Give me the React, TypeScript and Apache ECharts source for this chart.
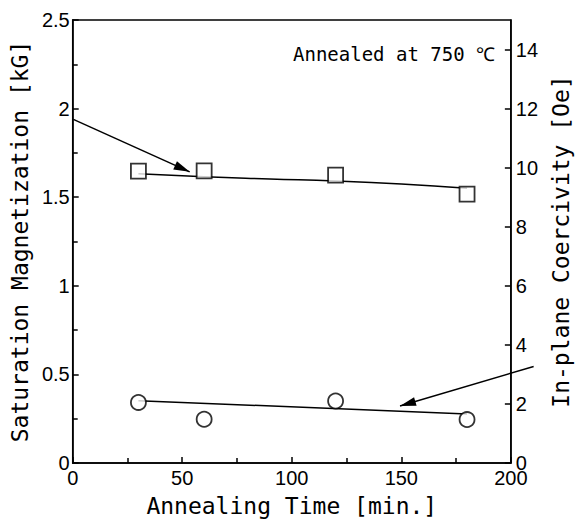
import { useEffect, useRef } from "react";
import * as echarts from "echarts";

// Annealing time [min.]
const annealTime = [30, 60, 120, 180];
// Saturation magnetization [kG] (squares, left axis)
const satMag = [1.647, 1.649, 1.625, 1.517];
// In-plane coercivity [Oe] (circles, right axis)
const coercivity = [2.05, 1.48, 2.1, 1.47];
// Fitted curve through magnetization points
const satFitTime = [30, 60, 90, 120, 150, 180];
const satFit = [1.632, 1.615, 1.603, 1.592, 1.575, 1.551];
// Fitted line through coercivity points
const coerFitTime = [30, 180];
const coerFit = [2.11, 1.66];
// Annotation arrows [start, tip]
const satArrow = [
  [0.3, 1.939],
  [53.4, 1.643],
];
const coerArrow = [
  [210.4, 3.27],
  [149.4, 1.93],
];
// Right-axis tick values
const rightTicks = [0, 2, 4, 6, 8, 10, 12, 14];

const ARROW = "path://M0,0 M32,32 M16,16 L20.5,32 L11.5,32 Z";

const MONO = '"DejaVu Sans Mono", "Liberation Mono", monospace';
const SANS = '"Liberation Sans", Arial, sans-serif';

export default function App() {
  const ref = useRef<HTMLDivElement>(null);
  useEffect(() => {
    if (!ref.current) return;
    const chart = echarts.init(ref.current, null, { renderer: "svg" });
    const axisLine = { show: true, lineStyle: { color: "#000", width: 1.5 } };
    const nameStyle = { fontFamily: MONO, fontSize: 23, color: "#000" };
    const labelStyle = { fontFamily: SANS, fontSize: 20, color: "#000" };
    chart.setOption({
      animation: false,
      backgroundColor: "#fff",
      grid: {
        left: 72,
        right: 60,
        top: 20,
        bottom: 60,
        show: true,
        borderColor: "#000",
        borderWidth: 1.5,
        backgroundColor: "transparent",
      },
      xAxis: {
        type: "value",
        min: 0,
        max: 200,
        interval: 50,
        name: "Annealing Time [min.]",
        nameLocation: "middle",
        nameGap: 31,
        nameTextStyle: { ...nameStyle, verticalAlign: "top" },
        axisLine,
        axisTick: { show: true, inside: true, length: 6, lineStyle: { color: "#000", width: 1.5 } },
        minorTick: { show: true, splitNumber: 2, length: 5, lineStyle: { color: "#000", width: 1.5 } },
        axisLabel: { ...labelStyle, margin: 5 },
        splitLine: { show: false },
      },
      yAxis: [
        {
          type: "value",
          position: "left",
          min: 0,
          max: 2.5,
          interval: 0.5,
          name: "Saturation Magnetization [kG]",
          nameLocation: "middle",
          nameRotate: 90,
          nameGap: 37,
          nameTextStyle: nameStyle,
          axisLine,
          axisTick: { show: true, inside: true, length: 6, lineStyle: { color: "#000", width: 1.5 } },
          minorTick: { show: true, splitNumber: 2, length: 5, lineStyle: { color: "#000", width: 1.5 } },
          axisLabel: { ...labelStyle, margin: 3 },
          splitLine: { show: false },
        },
        {
          type: "value",
          position: "right",
          min: 0,
          max: 15,
          interval: 2,
          name: "In-plane Coercivity [Oe]",
          nameLocation: "middle",
          nameRotate: 90,
          nameGap: 31,
          nameTextStyle: nameStyle,
          axisLine,
          axisTick: {
            show: true,
            inside: true,
            length: 6,
            customValues: rightTicks,
            lineStyle: { color: "#000", width: 1.5 },
          },
          axisLabel: { ...labelStyle, margin: 5, customValues: rightTicks },
          splitLine: { show: false },
        },
      ],
      graphic: [
        {
          type: "text",
          left: 293,
          top: 44,
          style: {
            text: "Annealed at 750 ℃",
            font: `19px ${MONO}`,
            fill: "#000",
          },
        },
      ],
      series: [
        {
          type: "line",
          yAxisIndex: 0,
          data: satFitTime.map((t, i) => [t, satFit[i]]),
          smooth: true,
          showSymbol: false,
          symbol: "none",
          lineStyle: { color: "#000", width: 1.5 },
          silent: true,
          z: 2,
        },
        {
          type: "line",
          yAxisIndex: 1,
          data: coerFitTime.map((t, i) => [t, coerFit[i]]),
          showSymbol: false,
          symbol: "none",
          lineStyle: { color: "#000", width: 1.5 },
          silent: true,
          z: 2,
        },
        {
          type: "lines",
          coordinateSystem: "cartesian2d",
          xAxisIndex: 0,
          yAxisIndex: 0,
          clip: false,
          symbol: ["none", ARROW],
          symbolSize: 32,
          lineStyle: { color: "#000", width: 1.5, opacity: 1 },
          data: [{ coords: satArrow }],
          silent: true,
          z: 3,
        },
        {
          type: "lines",
          coordinateSystem: "cartesian2d",
          xAxisIndex: 0,
          yAxisIndex: 1,
          clip: false,
          symbol: ["none", ARROW],
          symbolSize: 32,
          lineStyle: { color: "#000", width: 1.5, opacity: 1 },
          data: [{ coords: coerArrow }],
          silent: true,
          z: 3,
        },
        {
          type: "scatter",
          yAxisIndex: 0,
          data: annealTime.map((t, i) => [t, satMag[i]]),
          symbol: "rect",
          symbolSize: 15,
          itemStyle: { color: "#fff", borderColor: "#000", borderWidth: 1.8 },
          z: 4,
        },
        {
          type: "scatter",
          yAxisIndex: 1,
          data: annealTime.map((t, i) => [t, coercivity[i]]),
          symbol: "circle",
          symbolSize: 15,
          itemStyle: { color: "#fff", borderColor: "#000", borderWidth: 1.8 },
          z: 4,
        },
      ],
    });
    return () => chart.dispose();
  }, []);
  return (
    <div
      ref={ref}
      style={{ position: "fixed", left: 0, top: 0, width: 580, height: 523 }}
    />
  );
}
